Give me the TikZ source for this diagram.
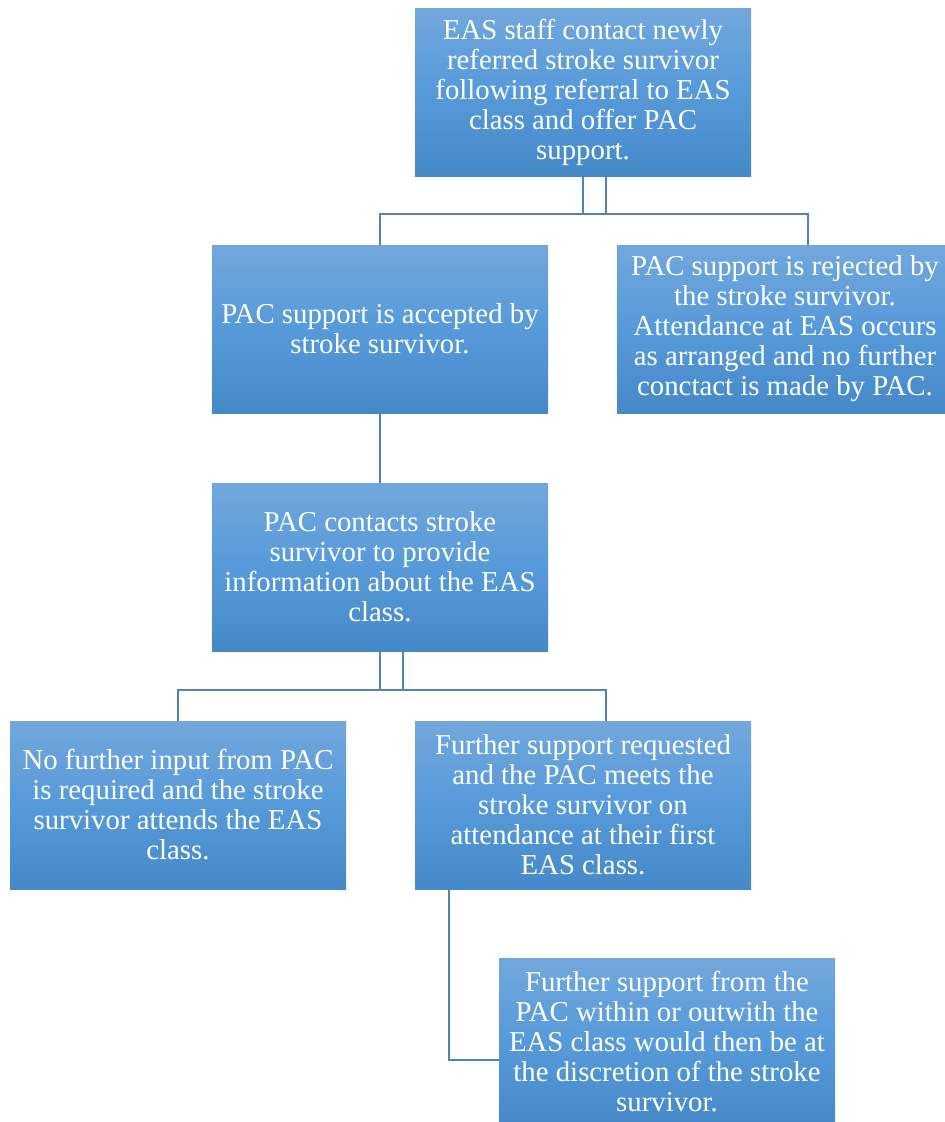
\documentclass[tikz,border=0pt]{standalone}
\usepackage{fontspec}
\setmainfont{Liberation Serif}
\definecolor{boxtop}{RGB}{114,167,220}
\definecolor{boxmid}{RGB}{86,154,218}
\definecolor{boxbot}{RGB}{70,137,200}
\definecolor{linkcol}{RGB}{82,130,186}
\tikzset{
	stepbox/.style={rectangle, top color=boxtop, bottom color=boxbot, middle color=boxmid, minimum width=336pt, minimum height=168pt, inner sep=0pt, align=center, text=white, font=\fontsize{28.8}{30}\selectfont},
	link/.style={draw=linkcol, line width=1.5pt}
}
\begin{document}
\begin{tikzpicture}[x=1pt,y=1pt]
	\useasboundingbox (0,0) rectangle (945,-1122);
	\node [stepbox] (offer) at (583,-92) {EAS staff contact newly\\referred stroke survivor\\following referral to EAS\\class and offer PAC\\support.};
	\node [stepbox] (accept) at (380,-329) {PAC support is accepted by\\stroke survivor.};
	\node [stepbox] (reject) at (785,-329) {PAC support is rejected by\\the stroke survivor.\\Attendance at EAS occurs\\as arranged and no further\\conctact is made by PAC.};
	\node [stepbox] (inform) at (380,-567) {PAC contacts stroke\\survivor to provide\\information about the EAS\\class.};
	\node [stepbox] (noinput) at (178,-805) {No further input from PAC\\is required and the stroke\\survivor attends the EAS\\class.};
	\node [stepbox] (request) at (583,-805) {Further support requested\\and the PAC meets the\\stroke survivor on\\attendance at their first\\EAS class.};
	\node [stepbox] (discretion) at (667,-1042) {Further support from the\\PAC within or outwith the\\EAS class would then be at\\the discretion of the stroke\\survivor.};
	\draw [link] (offer.south) -- ++(0,-38) ++(23,0) -| (accept.north);
	\draw [link] ([xshift=23pt]offer.south) -- ++(0,-38) -| ([xshift=23pt]reject.north);
	\draw [link] (accept.south) -- (inform.north);
	\draw [link] (inform.south) -- ++(0,-39) ++(23,0) -| (noinput.north);
	\draw [link] ([xshift=23pt]inform.south) -- ++(0,-39) -| ([xshift=23pt]request.north);
	\draw [link] ([xshift=34pt]request.south west) |- ([yshift=-18pt]discretion.west);
\end{tikzpicture}
\end{document}
